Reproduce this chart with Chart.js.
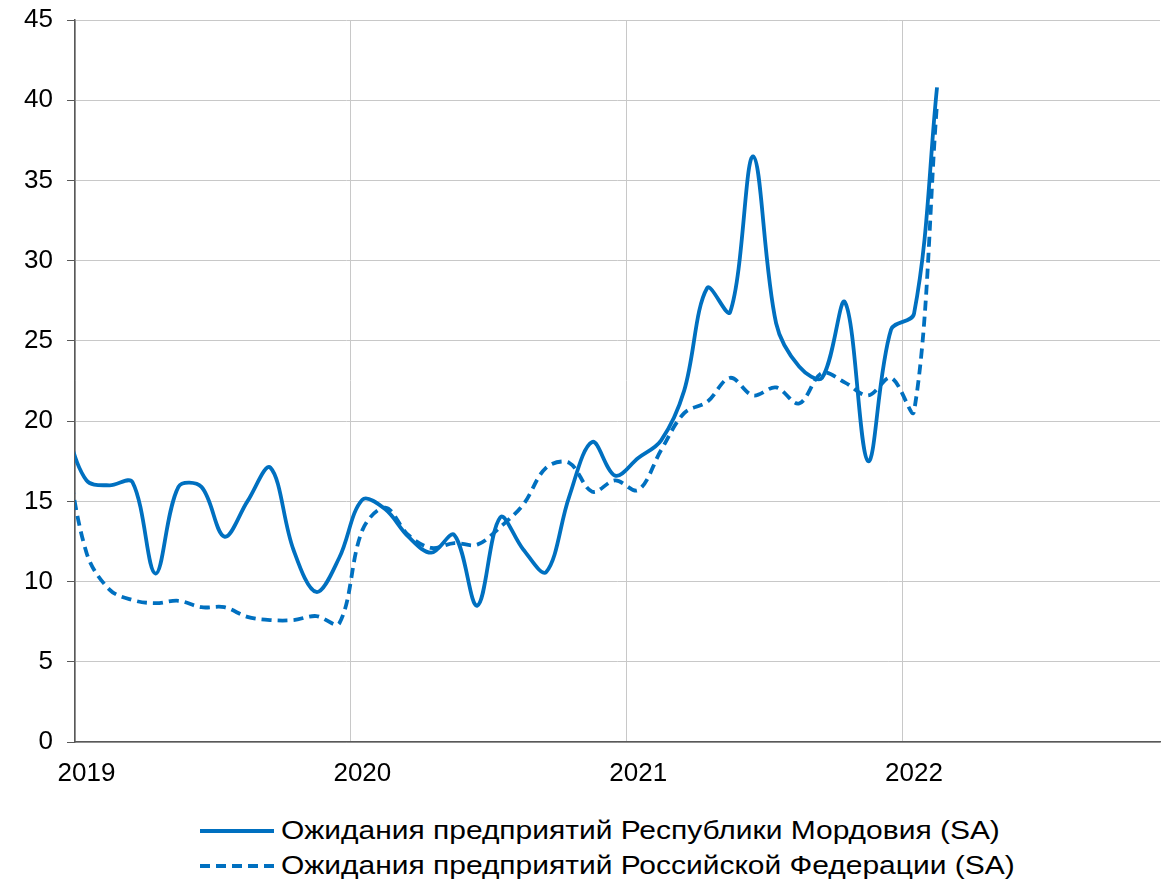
<!DOCTYPE html>
<html>
<head>
<meta charset="utf-8">
<script src="https://cdn.jsdelivr.net/npm/chart.js@4/dist/chart.umd.min.js"></script>
<style>
  html, body { margin: 0; padding: 0; background: #fff; }
  #wrap { position: relative; width: 1163px; height: 884px; }
  #chartBox { position: absolute; left: 0; top: 0; width: 1163px; height: 800px; }
  #legend { position: absolute; left: 200px; top: 813px; font-family: 'Liberation Sans', Arial, sans-serif; font-size: 26px; color: #000; }
  .row { display: flex; align-items: center; height: 35px; white-space: nowrap; }
  .row svg { margin-right: 7px; flex: none; }
  .row span { display: inline-block; transform: scaleX(1.152); transform-origin: left center; }
</style>
</head>
<body>
<div id="wrap">
  <div id="chartBox"><canvas id="c" width="1163" height="800"></canvas></div>
  <div id="legend"></div>
</div>
<script>
// Months (mid-month observations), first one is Dec 2018 (clipped at left edge)
const months = ['2018-12',
  '2019-01','2019-02','2019-03','2019-04','2019-05','2019-06','2019-07','2019-08','2019-09','2019-10','2019-11','2019-12',
  '2020-01','2020-02','2020-03','2020-04','2020-05','2020-06','2020-07','2020-08','2020-09','2020-10','2020-11','2020-12',
  '2021-01','2021-02','2021-03','2021-04','2021-05','2021-06','2021-07','2021-08','2021-09','2021-10','2021-11','2021-12',
  '2022-01','2022-02'];
const mordovia = [20.0,
  16.3, 16.0, 16.2, 10.5, 15.9, 15.9, 12.8, 15.0, 17.1, 12.0, 9.35, 11.5,
  15.1, 14.5, 12.8, 11.8, 12.9, 8.5, 14.0, 12.0, 10.6, 15.3, 18.7, 16.6,
  17.7, 18.8, 21.9, 28.3, 26.8, 36.5, 26.1, 23.4, 22.7, 27.4, 17.5, 25.7,
  26.7, 40.8];
const russia = [19.0,
  11.8, 9.5, 8.85, 8.65, 8.8, 8.4, 8.4, 7.8, 7.6, 7.6, 7.85, 7.4,
  13.2, 14.6, 12.9, 12.1, 12.4, 12.3, 13.4, 14.8, 17.1, 17.4, 15.6, 16.3,
  15.7, 18.2, 20.5, 21.2, 22.7, 21.6, 22.1, 21.1, 23.0, 22.4, 21.6, 22.7,
  20.6, 39.8];
const yearLabels = ['2019', '2020', '2021', '2022'];
const seriesNames = ['Ожидания предприятий Республики Мордовия (SA)', 'Ожидания предприятий Российской Федерации (SA)'];

const BLUE = '#0070C0';
const FONT = "'Liberation Sans', Arial, sans-serif";

function monthPos(m) {
  const [y, mo] = m.split('-').map(Number);
  return (y - 2019) * 12 + (mo - 1) + 0.5;
}
const toPoints = vals => vals.map((v, i) => ({ x: monthPos(months[i]), y: v }));

const chart = new Chart(document.getElementById('c'), {
  type: 'line',
  data: {
    datasets: [
      { label: seriesNames[0], data: toPoints(mordovia), borderColor: BLUE, borderWidth: 3.8, pointRadius: 0, tension: 0.35, fill: false },
      { label: seriesNames[1], data: toPoints(russia), borderColor: BLUE, borderWidth: 3.8, borderDash: [10, 6], pointRadius: 0, tension: 0.35, fill: false }
    ]
  },
  options: {
    responsive: false,
    animation: false,
    events: [],
    layout: { padding: { top: 20, right: 3, left: 0, bottom: 0 } },
    plugins: { legend: { display: false }, tooltip: { enabled: false } },
    scales: {
      x: {
        type: 'linear',
        min: 0,
        max: 47.2,
        afterBuildTicks: s => { s.ticks = yearLabels.map((_, i) => ({ value: i * 12 })); },
        afterFit: s => { s.height = 58; s.paddingLeft = 0; s.paddingRight = 0; },
        ticks: {
          callback: (v) => yearLabels[Math.round(v / 12)],
          labelOffset: 11.5,
          padding: 16,
          maxRotation: 0,
          autoSkip: false,
          color: '#000',
          font: { family: FONT, size: 26 }
        },
        grid: { color: '#C8C8C8', lineWidth: 1, drawTicks: false },
        border: { color: '#595959', width: 1.5 }
      },
      y: {
        min: 0,
        max: 45,
        afterFit: s => { s.width = 75; s.paddingTop = 0; s.paddingBottom = 0; },
        ticks: {
          stepSize: 5,
          padding: 14,
          color: '#000',
          font: { family: FONT, size: 26 }
        },
        grid: { color: '#C8C8C8', lineWidth: 1, tickLength: 8, tickColor: '#595959' },
        border: { color: '#595959', width: 1.5 }
      }
    }
  }
});

// HTML legend
const legend = document.getElementById('legend');
seriesNames.forEach((name, i) => {
  const row = document.createElement('div');
  row.className = 'row';
  const dash = i === 1 ? 'stroke-dasharray="10 6"' : '';
  row.innerHTML = '<svg width="74" height="8"><line x1="0" y1="4" x2="74" y2="4" stroke="' + BLUE + '" stroke-width="3.8" ' + dash + '/></svg><span>' + name + '</span>';
  legend.appendChild(row);
});
</script>
</body>
</html>
